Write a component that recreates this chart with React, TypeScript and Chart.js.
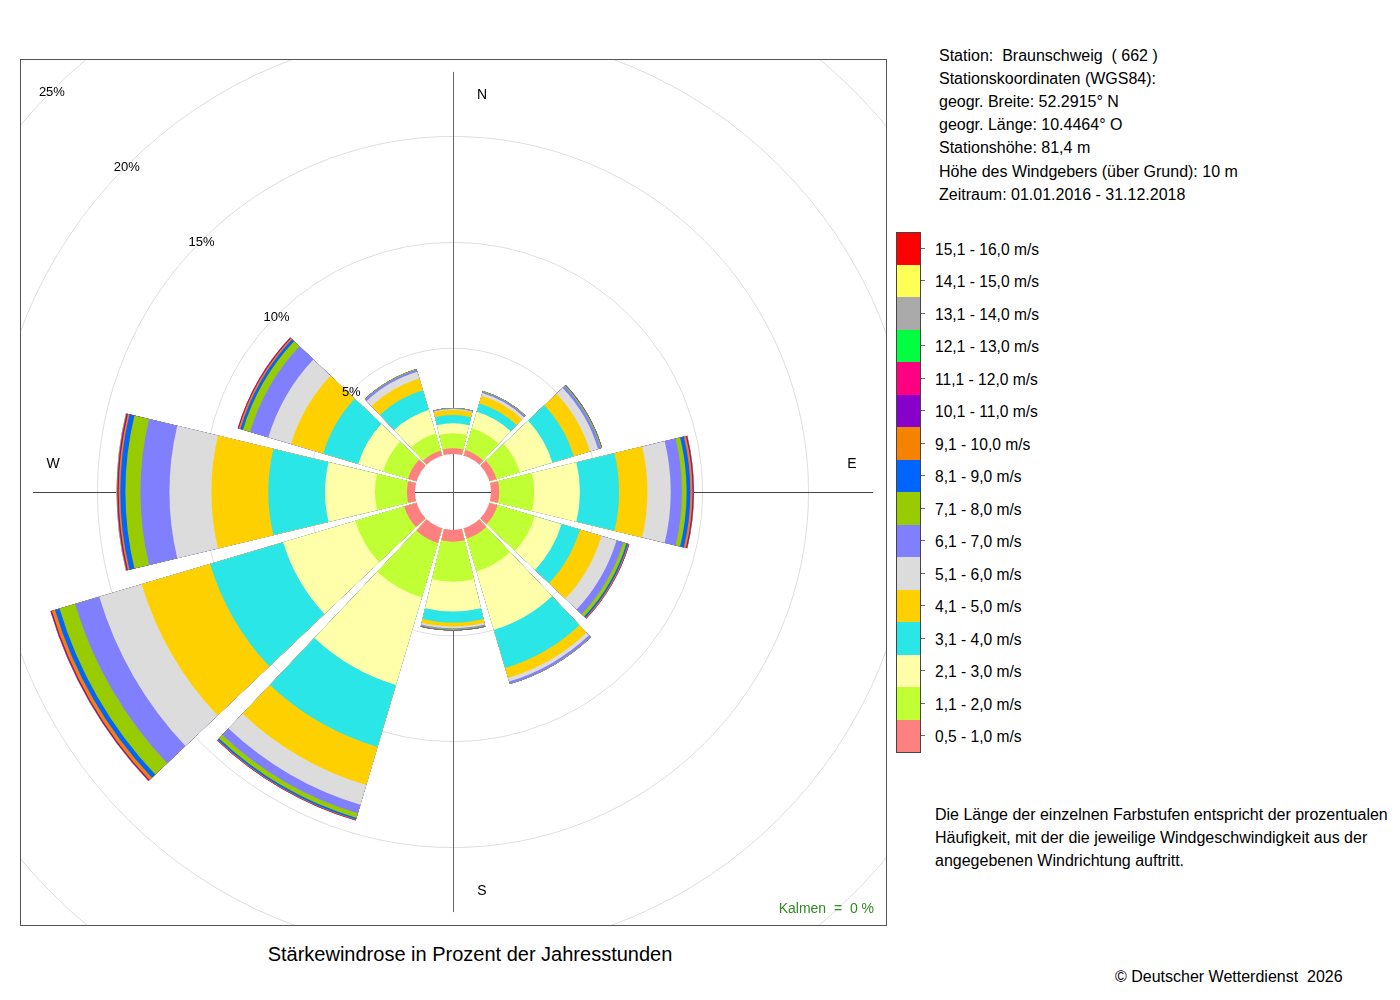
import React, { useEffect, useRef } from "react";
import { Chart, registerables } from "chart.js";

Chart.register(...registerables);

// Direction sectors (centre bearing, clockwise from north)
const directions = ["N", "30°", "60°", "E", "120°", "150°", "S", "210°", "240°", "W", "300°", "330°"];

// Frequency in % of hours, per speed class, per direction (order as above)
const s05_10 = [0.27, 0.27, 0.35, 0.39, 0.40, 0.49, 0.55, 0.72, 0.61, 0.38, 0.42, 0.25];
const s11_20 = [0.71, 1.07, 1.15, 1.65, 1.84, 1.63, 1.89, 2.68, 2.41, 1.51, 1.23, 0.84];
const s21_30 = [0.47, 0.82, 1.60, 2.16, 1.31, 2.88, 1.41, 4.31, 3.55, 2.36, 1.22, 1.15];
const s31_40 = [0.39, 0.41, 1.05, 1.85, 0.91, 1.88, 0.52, 3.06, 3.60, 2.68, 1.73, 0.98];
const s41_50 = [0.24, 0.38, 0.80, 1.34, 1.06, 0.49, 0.19, 1.87, 3.37, 2.69, 1.58, 0.58];
const s51_60 = [0.04, 0.13, 0.40, 1.10, 0.74, 0.17, 0.08, 0.97, 2.09, 1.98, 1.12, 0.33];
const s61_70 = [0.03, 0.07, 0.12, 0.53, 0.33, 0.11, 0.04, 0.42, 1.19, 1.37, 0.90, 0.10];
const s71_80 = [0.02, 0.03, 0.05, 0.22, 0.16, 0.02, 0.04, 0.23, 0.77, 0.71, 0.35, 0.03];
const s81_90 = [0, 0, 0.02, 0.18, 0.08, 0, 0.02, 0.08, 0.22, 0.24, 0.13, 0];
const s91_100 = [0, 0, 0.01, 0.10, 0.04, 0, 0.01, 0.03, 0.16, 0.08, 0.08, 0];
const s101_110 = [0, 0, 0, 0.04, 0.01, 0, 0, 0.01, 0.04, 0.04, 0.03, 0];
const s111_120 = [0, 0, 0, 0.02, 0.01, 0, 0, 0.01, 0.02, 0.03, 0.02, 0];
const s121_130 = [0, 0, 0, 0.01, 0, 0, 0, 0, 0.01, 0.02, 0, 0];
const s131_140 = [0, 0, 0, 0, 0, 0, 0, 0, 0, 0.01, 0, 0];
const s141_150 = [0, 0, 0, 0, 0, 0, 0, 0, 0, 0, 0, 0];
const s151_160 = [0, 0, 0, 0, 0, 0, 0, 0, 0, 0, 0, 0];

const speedClasses = [
  "0,5 - 1,0 m/s", "1,1 - 2,0 m/s", "2,1 - 3,0 m/s", "3,1 - 4,0 m/s",
  "4,1 - 5,0 m/s", "5,1 - 6,0 m/s", "6,1 - 7,0 m/s", "7,1 - 8,0 m/s",
  "8,1 - 9,0 m/s", "9,1 - 10,0 m/s", "10,1 - 11,0 m/s", "11,1 - 12,0 m/s",
  "12,1 - 13,0 m/s", "13,1 - 14,0 m/s", "14,1 - 15,0 m/s", "15,1 - 16,0 m/s",
];
const classColors = [
  "#FF8080", "#BFFF33", "#FFFFAA", "#2AE6E6",
  "#FFD000", "#DCDCDC", "#8080FF", "#99CC00",
  "#0064FF", "#F58200", "#8800CC", "#FF0080",
  "#00FF40", "#AAAAAA", "#FFFF55", "#FF0000",
];
const classValues = [
  s05_10, s11_20, s21_30, s31_40, s41_50, s51_60, s61_70, s71_80,
  s81_90, s91_100, s101_110, s111_120, s121_130, s131_140, s141_150, s151_160,
];

const ringTicks = [5, 10, 15, 20, 25];
const compassLabels = ["N", "E", "S", "W"];

const stationLines = [
  "Station:  Braunschweig  ( 662 )",
  "Stationskoordinaten (WGS84):",
  "geogr. Breite: 52.2915° N",
  "geogr. Länge: 10.4464° O",
  "Stationshöhe: 81,4 m",
  "Höhe des Windgebers (über Grund): 10 m",
  "Zeitraum: 01.01.2016 - 31.12.2018",
];
const noteLines = [
  "Die Länge der einzelnen Farbstufen entspricht der prozentualen",
  "Häufigkeit, mit der die jeweilige Windgeschwindigkeit aus der",
  "angegebenen Windrichtung auftritt.",
];

const FONT = '"Liberation Sans", Arial, Helvetica, sans-serif';
const SECTOR_DEG = 27;
const GAP_DEG = 3;
const PX_PER_PCT = 21.17;
const HOLE_PX = 38;
const CANVAS = 1200;
const R_MIN = -HOLE_PX / PX_PER_PCT;
const R_MAX = CANVAS / 2 / PX_PER_PCT + R_MIN;

function buildDatasets() {
  const labels: string[] = [];
  directions.forEach((d) => { labels.push(d); labels.push(""); });
  const datasets = classValues.map((vals, k) => {
    const data: number[] = [];
    directions.forEach((_, i) => {
      let cum = 0;
      for (let j = 0; j <= k; j++) cum += classValues[j][i];
      data.push(cum);
      data.push(0);
    });
    return {
      label: speedClasses[k],
      data,
      backgroundColor: (c: any) => (c.dataIndex % 2 === 0 ? classColors[k] : "rgba(0,0,0,0)"),
      borderWidth: 0,
      angle: (c: any) => (c.dataIndex % 2 === 0 ? SECTOR_DEG : GAP_DEG),
    };
  });
  return { labels, datasets };
}

const decorPlugin = {
  id: "roseDecor",
  beforeDatasetsDraw(chart: any) {
    const s = chart.scales.r;
    const ctx = chart.ctx;
    const cx = s.xCenter, cy = s.yCenter;
    const L = s.getDistanceFromCenterForValue(18.05);
    ctx.save();
    ctx.lineWidth = 1;
    ctx.strokeStyle = "#444";
    ctx.beginPath();
    ctx.moveTo(cx - L, cy + 0.5);
    ctx.lineTo(cx + L, cy + 0.5);
    ctx.stroke();
    ctx.strokeStyle = "#666";
    ctx.beginPath();
    ctx.moveTo(cx + 0.5, cy - L);
    ctx.lineTo(cx + 0.5, cy + L);
    ctx.stroke();
    ctx.restore();
  },
  afterDatasetsDraw(chart: any) {
    const s = chart.scales.r;
    const ctx = chart.ctx;
    const cx = s.xCenter, cy = s.yCenter;
    const h = s.getDistanceFromCenterForValue(0);
    ctx.save();
    ctx.fillStyle = "#fff";
    ctx.beginPath();
    ctx.arc(cx, cy, h, 0, Math.PI * 2);
    ctx.fill();
    ctx.lineWidth = 1;
    ctx.strokeStyle = "#444";
    ctx.beginPath();
    ctx.moveTo(cx - h, cy + 0.5);
    ctx.lineTo(cx + h, cy + 0.5);
    ctx.stroke();
    ctx.strokeStyle = "#666";
    ctx.beginPath();
    ctx.moveTo(cx + 0.5, cy - h);
    ctx.lineTo(cx + 0.5, cy + h);
    ctx.stroke();

    // ring labels along NW diagonal
    ctx.fillStyle = "#000";
    ctx.font = "13px " + FONT;
    ctx.textAlign = "center";
    ctx.textBaseline = "middle";
    ringTicks.forEach((t) => {
      const d = s.getDistanceFromCenterForValue(t) * Math.SQRT1_2;
      ctx.fillText(t + "%", cx - d, cy - d + 2);
    });

    // compass labels
    ctx.font = "14px " + FONT;
    const far = 398;
    const off = 28;
    const pos = [
      [cx + 29, cy - far + 1],
      [cx + far + 1, cy - off],
      [cx + 29, cy + far + 1],
      [cx - far - 2, cy - off],
    ];
    compassLabels.forEach((lab, i) => ctx.fillText(lab, pos[i][0], pos[i][1]));
    ctx.restore();
  },
};

export default function App() {
  const ref = useRef<HTMLCanvasElement | null>(null);

  useEffect(() => {
    if (!ref.current) return;
    const { labels, datasets } = buildDatasets();
    const chart = new Chart(ref.current, {
      type: "polarArea",
      data: { labels, datasets: datasets as any },
      options: {
        animation: false,
        responsive: false,
        events: [],
        layout: { padding: 0 },
        plugins: { legend: { display: false }, tooltip: { enabled: false } },
        scales: {
          r: {
            type: "radialLinear",
            min: R_MIN,
            max: R_MAX,
            startAngle: -SECTOR_DEG / 2,
            ticks: { display: false },
            grid: { color: "#dedede", lineWidth: 1, circular: true },
            angleLines: { display: false },
            pointLabels: { display: false },
            afterBuildTicks: (sc: any) => {
              sc.ticks = [R_MIN, ...ringTicks].map((v) => ({ value: v }));
            },
          } as any,
        },
      } as any,
      plugins: [decorPlugin as any],
    });
    return () => chart.destroy();
  }, []);

  const legendTop = 232;
  const boxH = 32.5;
  const legendOrder = speedClasses.map((_, i) => speedClasses.length - 1 - i);

  return (
    <div
      style={{
        position: "absolute",
        left: 0,
        top: 0,
        width: 1400,
        height: 1000,
        background: "#fff",
        fontFamily: FONT,
        color: "#000",
      }}
    >
      <div style={{ position: "absolute", left: 20, top: 59, width: 866, height: 866, overflow: "hidden" }}>
        <canvas
          ref={ref}
          width={CANVAS}
          height={CANVAS}
          style={{ position: "absolute", left: 433 - CANVAS / 2, top: 433 - CANVAS / 2, width: CANVAS, height: CANVAS }}
        />
        <div
          style={{
            position: "absolute",
            right: 12,
            top: 841,
            fontSize: 14,
            lineHeight: "17px",
            color: "#2E8B22",
            whiteSpace: "pre",
          }}
        >
          {"Kalmen  =  0 %"}
        </div>
      </div>
      <div
        style={{
          position: "absolute",
          left: 20,
          top: 59,
          width: 867,
          height: 867,
          boxSizing: "border-box",
          border: "1px solid #555",
          pointerEvents: "none",
        }}
      />
      <div
        style={{
          position: "absolute",
          left: 20,
          width: 900,
          top: 942,
          textAlign: "center",
          fontSize: 20,
          lineHeight: "25px",
        }}
      >
        Stärkewindrose in Prozent der Jahresstunden
      </div>

      {stationLines.map((t, i) => (
        <div
          key={"st" + i}
          style={{
            position: "absolute",
            left: 939,
            top: 43.5 + i * 23.2,
            fontSize: 16,
            lineHeight: "23px",
            whiteSpace: "pre",
          }}
        >
          {t}
        </div>
      ))}

      {legendOrder.map((k, i) => (
        <React.Fragment key={"lg" + k}>
          <div
            style={{
              position: "absolute",
              left: 896,
              top: legendTop + i * boxH,
              width: 24,
              height: boxH,
              background: classColors[k],
            }}
          />
          <div
            style={{
              position: "absolute",
              left: 920,
              top: legendTop + i * boxH + boxH / 2 - 0.5,
              width: 5,
              height: 1,
              background: "#666",
            }}
          />
          <div
            style={{
              position: "absolute",
              left: 935,
              top: legendTop + i * boxH + boxH / 2 - 10.5,
              fontSize: 15.6,
              lineHeight: "23px",
              whiteSpace: "pre",
            }}
          >
            {speedClasses[k]}
          </div>
        </React.Fragment>
      ))}
      <div
        style={{
          position: "absolute",
          left: 896,
          top: legendTop,
          width: 25,
          height: boxH * 16 + 1,
          boxSizing: "border-box",
          border: "1px solid #444",
          pointerEvents: "none",
        }}
      />

      {noteLines.map((t, i) => (
        <div
          key={"nt" + i}
          style={{
            position: "absolute",
            left: 935,
            top: 802.5 + i * 23,
            fontSize: 16,
            lineHeight: "23px",
            whiteSpace: "pre",
          }}
        >
          {t}
        </div>
      ))}

      <div
        style={{
          position: "absolute",
          left: 1115,
          top: 964.5,
          fontSize: 16,
          lineHeight: "23px",
          whiteSpace: "pre",
        }}
      >
        {"© Deutscher Wetterdienst  2026"}
      </div>
    </div>
  );
}
